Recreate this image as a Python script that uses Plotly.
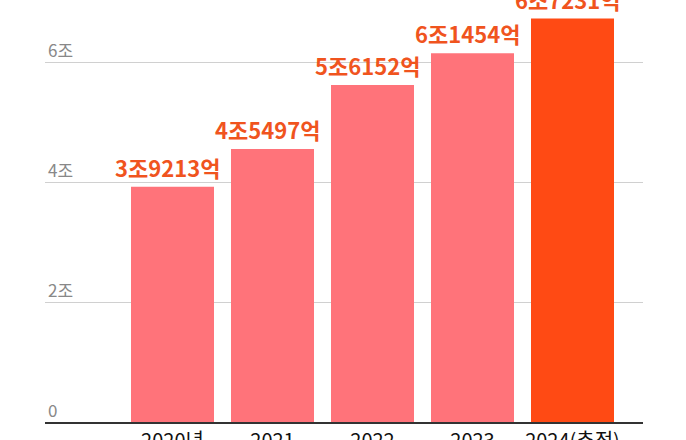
import plotly.graph_objects as go

categories = ["2020년", "2021", "2022", "2023", "2024(추정)"]
values = [3.9213, 4.5497, 5.6152, 6.1454, 6.7231]
value_labels = ["3조9213억", "4조5497억", "5조6152억", "6조1454억", "6조7231억"]
bar_colors = ["#FF737A", "#FF737A", "#FF737A", "#FF737A", "#FF4A14"]
tick_vals = [0, 2, 4, 6]
tick_text = ["0", "2조", "4조", "6조"]

FONT = "Noto Sans CJK KR"

fig = go.Figure(go.Bar(
    x=list(range(len(categories))),
    y=values,
    marker=dict(color=bar_colors, line=dict(width=0)),
    width=0.83,
    cliponaxis=False,
    hoverinfo="skip",
))

for i, (v, lab) in enumerate(zip(values, value_labels)):
    fig.add_annotation(
        x=i, y=v, text=f"<b>{lab}</b>", showarrow=False,
        xanchor="center", yanchor="bottom", xshift=-5, yshift=2,
        font=dict(family=FONT, size=22, color="#F0541E"),
    )

fig.update_layout(
    width=686, height=440,
    margin=dict(l=45, r=43, t=0, b=18, autoexpand=False),
    paper_bgcolor="white", plot_bgcolor="white",
    showlegend=False,
    font=dict(family=FONT),
)
fig.update_xaxes(
    range=[-1.275, 4.705],
    tickmode="array", tickvals=list(range(len(categories))), ticktext=categories,
    tickfont=dict(family=FONT, size=20, color="#111"),
    showgrid=False, zeroline=False,
    showline=True, linecolor="#333", linewidth=2,
    ticks="", automargin=False,
)
fig.update_yaxes(
    range=[0, 422 / 60],
    tickmode="array", tickvals=tick_vals, ticktext=tick_text,
    tickfont=dict(family=FONT, size=17, color="#888"),
    ticklabelposition="inside",
    ticklabeloverflow="allow",
    ticklabelshift=-11,
    ticklabelstandoff=0,
    showgrid=True, gridcolor="#D0D0D0", gridwidth=1,
    zeroline=False, showline=False, ticks="", automargin=False,
)

fig.write_html(
    "out.html",
    config={"displayModeBar": False},
    post_script="document.body.style.margin='0';document.body.style.overflow='hidden';",
)
